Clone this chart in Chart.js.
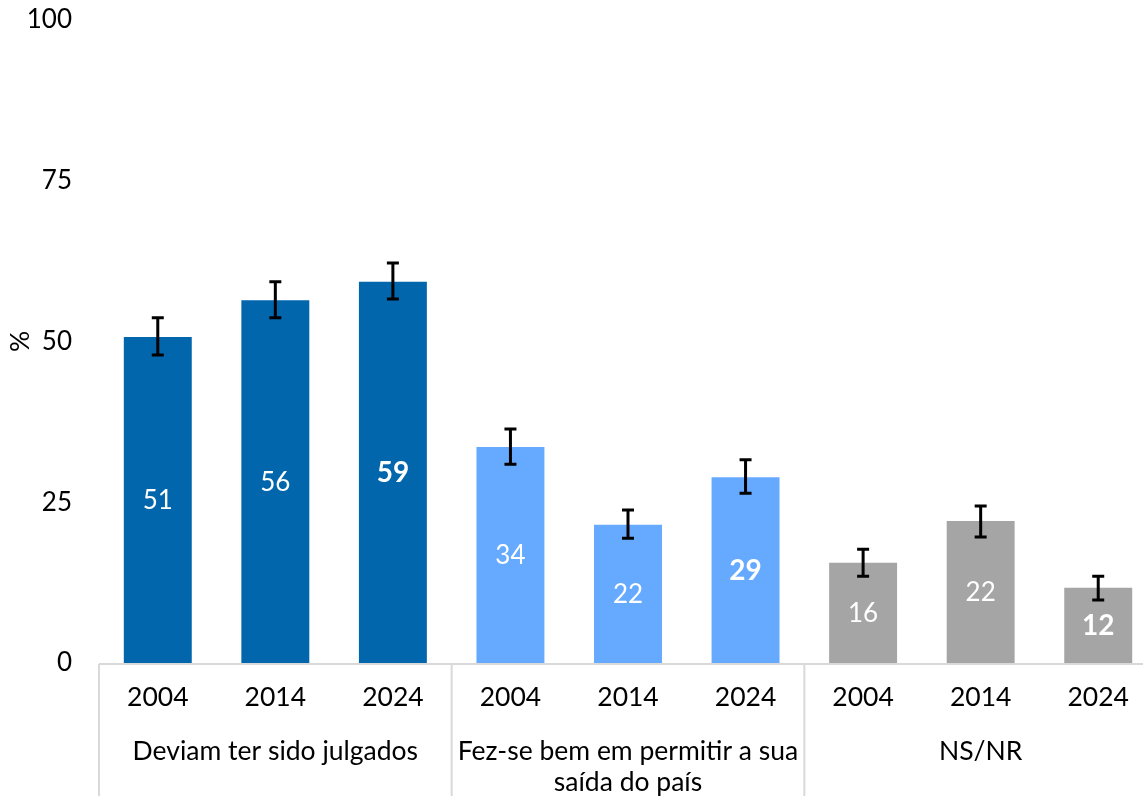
<!DOCTYPE html>
<html>
<head>
<meta charset="utf-8">
<script src="https://cdn.jsdelivr.net/npm/chart.js@4/dist/chart.umd.min.js"></script>
<style>
  html, body { margin: 0; padding: 0; background: #fff; overflow: hidden; }
  #wrap { width: 1157px; height: 796px; position: relative; }
</style>
</head>
<body>
<div id="wrap"><canvas id="c"></canvas></div>
<script>
const years = ['2004', '2014', '2024', '2004', '2014', '2024', '2004', '2014', '2024'];
const groups = [['Deviam ter sido julgados'], ['Fez-se bem em permitir a sua', 'saída do país'], ['NS/NR']];
const values = [50.7, 56.4, 59.3, 33.6, 21.5, 28.9, 15.6, 22.1, 11.7];
const errLow = [47.9, 53.7, 56.6, 30.9, 19.4, 26.4, 13.5, 19.6, 9.8];
const errHigh = [53.7, 59.3, 62.2, 36.4, 23.8, 31.6, 17.7, 24.4, 13.5];
const barColors = ['#0166AC', '#0166AC', '#0166AC', '#66AAFF', '#66AAFF', '#66AAFF', '#A5A5A5', '#A5A5A5', '#A5A5A5'];
const boldLabel = [false, false, true, false, false, true, false, false, true];
const yTicks = [0, 25, 50, 75, 100];
const yTitle = '%';

const FONT = 'Lato, "Noto Sans", sans-serif';

const overlay = {
  id: 'overlay',
  afterDatasetsDraw(chart) {
    const ctx = chart.ctx;
    const meta = chart.getDatasetMeta(0);
    const y = chart.scales.y;
    const x = chart.scales.x;
    const area = chart.chartArea;
    ctx.save();
    // data labels
    ctx.textAlign = 'center';
    ctx.textBaseline = 'middle';
    ctx.fillStyle = '#ffffff';
    meta.data.forEach((bar, i) => {
      ctx.font = boldLabel[i] ? ('bold 28px ' + FONT) : ('26px ' + FONT);
      ctx.fillText(String(Math.round(values[i])), bar.x, (bar.y + bar.base) / 2 + 1);
    });
    // error bars
    ctx.strokeStyle = '#000000';
    ctx.lineWidth = 3;
    meta.data.forEach((bar, i) => {
      const yl = y.getPixelForValue(errLow[i]);
      const yh = y.getPixelForValue(errHigh[i]);
      ctx.beginPath();
      ctx.moveTo(bar.x, yl); ctx.lineTo(bar.x, yh);
      ctx.moveTo(bar.x - 6, yl); ctx.lineTo(bar.x + 6, yl);
      ctx.moveTo(bar.x - 6, yh); ctx.lineTo(bar.x + 6, yh);
      ctx.stroke();
    });
    // axis line and group separators
    ctx.strokeStyle = '#D9D9D9';
    ctx.lineWidth = 2;
    ctx.beginPath();
    ctx.moveTo(area.left, area.bottom + 1); ctx.lineTo(area.right, area.bottom + 1);
    const per = years.length / groups.length;
    for (let g = 0; g <= groups.length; g++) {
      const idx = g * per - 0.5;
      const px = x.getPixelForValue(idx);
      ctx.moveTo(px, area.bottom + 1); ctx.lineTo(px, chart.height);
    }
    ctx.stroke();
    // group labels
    ctx.fillStyle = '#000000';
    ctx.font = '26.5px ' + FONT;
    ctx.textBaseline = 'middle';
    groups.forEach((lines, g) => {
      const cx = x.getPixelForValue(g * per + (per - 1) / 2);
      lines.forEach((t, k) => {
        ctx.fillText(t, cx, area.bottom + 88 + k * 31);
      });
    });
    // y title
    ctx.save();
    ctx.translate(20, y.getPixelForValue(50));
    ctx.rotate(-Math.PI / 2);
    ctx.fillText(yTitle, 0, 0);
    ctx.restore();
    ctx.restore();
  }
};

new Chart(document.getElementById('c'), {
  type: 'bar',
  data: {
    labels: years,
    datasets: [{
      data: values,
      backgroundColor: barColors,
      borderWidth: 0,
      barPercentage: 0.578,
      categoryPercentage: 1.0
    }]
  },
  options: {
    responsive: true,
    maintainAspectRatio: false,
    animation: false,
    layout: { padding: { top: 20, right: 0, left: 0, bottom: 0 } },
    plugins: { legend: { display: false }, tooltip: { enabled: false } },
    scales: {
      x: {
        grid: { display: false, drawTicks: false },
        border: { display: false },
        ticks: { color: '#000', font: { family: FONT, size: 26.5 }, padding: 19, maxRotation: 0, autoSkip: false },
        afterFit(scale) { scale.height = 133; scale.paddingLeft = 0; scale.paddingRight = 0; }
      },
      y: {
        min: 0, max: 100,
        afterBuildTicks(scale) { scale.ticks = yTicks.map(v => ({ value: v })); },
        grid: { display: false, drawTicks: false },
        border: { display: false },
        ticks: { color: '#000', font: { family: FONT, size: 26 }, padding: 27 },
        afterFit(scale) { scale.width = 99; scale.paddingTop = 0; scale.paddingBottom = 0; }
      }
    }
  },
  plugins: [overlay]
});
</script>
</body>
</html>
